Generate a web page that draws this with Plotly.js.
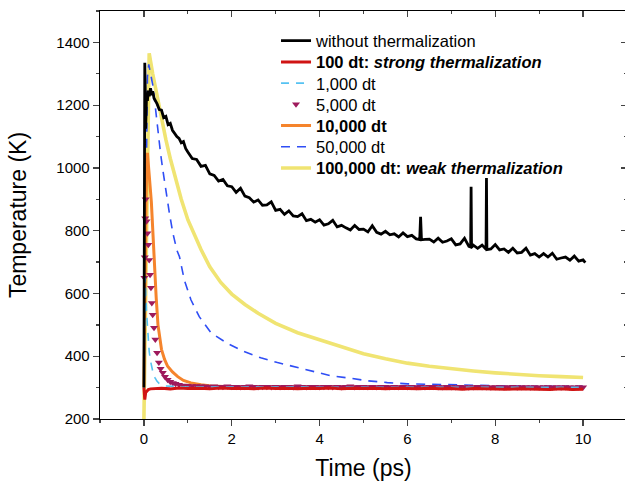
<!DOCTYPE html>
<html>
<head>
<meta charset="utf-8">
<script src="https://cdn.plot.ly/plotly-3.0.1.min.js"></script>
<style>
html,body{margin:0;padding:0;overflow:hidden;background:#fff;}
#chart{width:640px;height:482px;}
</style>
</head>
<body>
<div id="chart"></div>
<script>
// ---- Data ----
const seriesNames = [
  "without thermalization",
  "<b>100 dt: <i>strong thermalization</i></b>",
  "1,000 dt",
  "5,000 dt",
  "<b>10,000 dt</b>",
  "50,000 dt",
  "<b>100,000 dt: <i>weak thermalization</i></b>"
];

const blackT = [0,0.01,0.02,0.03,0.04,0.06,0.08,0.1,0.12,0.15,0.18,0.2,0.23,0.26,0.3,0.35,0.4,0.45,0.5,0.55,0.6,0.65,0.7,0.75,0.8,0.85,0.9,0.95,
  1.0,1.1,1.2,1.3,1.4,1.5,1.6,1.7,1.8,1.9,2.0,2.1,2.2,2.3,2.4,2.5,2.6,2.7,2.8,2.9,3.0,3.1,3.2,3.3,3.4,3.5,3.6,3.7,3.8,3.9,
  4.0,4.1,4.2,4.3,4.4,4.5,4.6,4.7,4.8,4.9,5.0,5.1,5.2,5.3,5.4,5.5,5.6,5.7,5.8,5.9,6.0,6.1,6.2,6.28,6.3,6.32,6.4,6.5,6.6,6.7,6.8,6.9,
  7.0,7.1,7.2,7.3,7.4,7.44,7.45,7.46,7.5,7.6,7.7,7.79,7.8,7.81,7.9,8.0,8.1,8.2,8.3,8.4,8.5,8.6,8.7,8.8,8.9,9.0,9.1,9.2,9.3,9.4,9.5,9.6,9.7,9.8,9.9,10.0,10.05];
const blackV = [300,640,1335,1262,1125,1232,1214,1246,1228,1254,1232,1244,1222,1216,1204,1186,1184,1160,1164,1138,1142,1120,1108,1100,1094,1080,1084,1062,
  1051,1030,1027,1005,1008,981,976,958,963,943,940,922,935,910,905,891,898,881,882,892,865,868,852,863,847,845,854,832,836,827,
  835,818,822,833,812,817,809,802,817,804,805,796,816,795,789,798,787,790,780,793,781,785,774,772,844,771,772,773,764,776,763,767,
  774,755,758,776,750,748,940,747,754,744,754,741,968,740,742,756,739,742,731,744,729,731,744,722,727,716,727,716,728,709,713,716,706,719,703,707,698];

const redT = [0,0.02,0.04,0.07,0.1,0.15,0.25,0.4,0.6,0.8,1.0,1.25,1.5,1.75,2.0,2.25,2.5,2.75,3.0,3.25,3.5,3.75,4.0,4.25,4.5,4.75,5.0,5.25,5.5,5.75,6.0,6.25,6.5,6.75,7.0,7.25,7.5,7.75,8.0,8.25,8.5,8.75,9.0,9.25,9.5,9.75,10.0];
const redV = [300,262,284,291,294,296,297,298,296,299,297,298,296,299,297,298,296,299,297,298,296,298,297,299,296,298,297,298,296,298,297,296,298,296,297,295,297,296,297,295,296,295,296,294,296,294,295];

const lightBlueT = [0,0.03,0.06,0.09,0.12,0.15,0.18,0.21,0.25,0.3,0.35,0.4,0.5,0.7,1.0,2,3,4,5,6,7,8,9,10];
const lightBlueV = [300,650,540,465,415,385,362,346,332,320,313,309,305,303,302,302,301,302,301,301,302,301,301,301];

const markerT = [0.01,0.02,0.03,0.04,0.06,0.08,0.1,0.12,0.14,0.16,0.18,0.2,0.23,0.26,0.3,0.34,0.38,0.43,0.48,0.54,0.6,0.66,0.72,0.8,0.9,
  1.0,1.1,1.2,1.3,1.4,1.5,1.6,1.7,1.8,1.9,2.0,2.1,2.2,2.3,2.4,2.5,2.6,2.7,2.8,2.9,3.0,3.1,3.2,3.3,3.4,3.5,3.6,3.7,3.8,3.9,
  4.0,4.1,4.2,4.3,4.4,4.5,4.6,4.7,4.8,4.9,5.0,5.1,5.2,5.3,5.4,5.5,5.6,5.7,5.8,5.9,6.0,6.1,6.2,6.3,6.4,6.5,6.6,6.7,6.8,6.9,
  7.0,7.1,7.2,7.3,7.4,7.5,7.6,7.7,7.8,7.9,8.0,8.1,8.2,8.3,8.4,8.5,8.6,8.7,8.8,8.9,9.0,9.1,9.2,9.3,9.4,9.5,9.6,9.7,9.8,9.9,10.0];
const markerV = [650,715,840,900,830,792,755,707,660,618,570,532,491,453,411,380,360,347,335,325,319,315,312,309,307,
  306,305,305,304,304,303,304,303,303,304,303,303,302,303,304,303,302,303,303,302,303,302,303,303,302,304,303,302,303,303,
  302,303,303,302,303,302,303,304,302,303,303,302,303,302,303,303,302,303,302,303,302,303,302,303,302,303,303,302,302,303,
  302,302,303,302,301,302,303,302,302,301,302,302,301,302,303,301,302,302,301,302,301,302,302,301,302,301,302,301,301,302,301];

const orangeT = [0,0.03,0.06,0.08,0.1,0.13,0.17,0.2,0.24,0.28,0.32,0.36,0.4,0.47,0.54,0.65,0.77,0.9,1.07,1.3,1.53,2,2.5,3,4,5,6,7,8,9,10];
const orangeV = [300,700,1000,1048,1020,960,890,800,690,585,500,455,422,390,368,350,335,323,315,309,305,303,303,302,302,302,301,301,301,300,300];

const blueT = [0,0.05,0.08,0.11,0.15,0.21,0.26,0.32,0.38,0.43,0.5,0.58,0.66,0.75,0.81,0.92,1.07,1.26,1.53,1.91,2.28,2.66,3.04,3.5,3.87,4.25,4.7,5.08,5.54,6.0,6.75,7.5,8.4,9.2,10];
const blueV = [300,900,1290,1330,1305,1258,1194,1111,1045,994,925,856,792,738,717,643,580,526,474,440,415,395,380,364,350,338,330,322,316,312,310,307,305,304,304];

const yellowT = [0,0.12,0.2,0.3,0.4,0.5,0.6,0.7,0.85,1.0,1.15,1.3,1.5,1.75,2.0,2.3,2.6,3.0,3.5,4.0,4.5,5.0,5.5,6.0,6.5,7.0,7.5,8.0,8.5,9.0,9.5,10.0];
const yellowV = [200,1365,1300,1225,1150,1090,1030,975,900,835,785,740,685,635,598,565,537,505,475,452,428,408,392,378,368,360,353,347,342,338,335,332];

const xTickVals = [0,2,4,6,8,10];
const yTickVals = [200,400,600,800,1000,1200,1400];
// legend row positions (paper y, one small legend per series)
const legendRowY = [0.9265,0.8745,0.8225,0.7706,0.7186,0.6667,0.6147];

// ---- Traces (drawing order: yellow bottom ... black top) ----
const traces = [
  {x: yellowT, y: yellowV, name: seriesNames[6], mode: 'lines', line: {color: '#f0e472', width: 3.6}, legend: 'legend7'},
  {x: blueT, y: blueV, name: seriesNames[5], mode: 'lines', line: {color: '#2f4ef5', width: 1.6, dash: '9px,7px'}, legend: 'legend6'},
  {x: orangeT, y: orangeV, name: seriesNames[4], mode: 'lines', line: {color: '#f5842c', width: 3}, legend: 'legend5'},
  {x: markerT, y: markerV, name: seriesNames[3], mode: 'markers', marker: {symbol: 'triangle-down', color: '#9e1a5c', size: 7}, legend: 'legend4'},
  {x: lightBlueT, y: lightBlueV, name: seriesNames[2], mode: 'lines', line: {color: '#55c2f2', width: 1.6, dash: '8px,7px'}, legend: 'legend3'},
  {x: redT, y: redV, name: seriesNames[1], mode: 'lines', line: {color: '#d01414', width: 3}, legend: 'legend2'},
  {x: blackT, y: blackV, name: seriesNames[0], mode: 'lines', line: {color: '#000000', width: 2.8}, legend: 'legend'},
  {x: [null], y: [null], xaxis: 'x2', yaxis: 'y2', showlegend: false, hoverinfo: 'skip', mode: 'lines'}
];

const fontFam = '"Liberation Sans", Arial, sans-serif';

function legendAt(i) {
  return {
    x: 0.334, y: legendRowY[i], xanchor: 'left', yanchor: 'middle',
    bgcolor: 'rgba(0,0,0,0)', borderwidth: 0,
    font: {size: 16.5, family: fontFam, color: '#000'}
  };
}

const layout = {
  width: 640, height: 482,
  margin: {l: 100, r: 13, t: 11, b: 63},
  paper_bgcolor: '#fff', plot_bgcolor: '#fff',
  font: {family: fontFam, color: '#000'},
  showlegend: true,
  legend: legendAt(0),
  legend2: legendAt(1),
  legend3: legendAt(2),
  legend4: legendAt(3),
  legend5: legendAt(4),
  legend6: legendAt(5),
  legend7: legendAt(6),
  xaxis: {
    range: [-1, 11], tickvals: xTickVals, ticks: 'outside', ticklen: 6, tickwidth: 1.3,
    minor: {dtick: 1, tick0: 0, ticks: 'outside', ticklen: 3, tickwidth: 1.3, showgrid: false},
    showline: true, linecolor: '#000', linewidth: 1.3, showgrid: false, zeroline: false,
    tickfont: {size: 15, family: fontFam},
    title: {text: 'Time (ps)', font: {size: 23, family: fontFam}, standoff: 13}
  },
  yaxis: {
    range: [200, 1500], tickvals: yTickVals, ticks: 'outside', ticklen: 6, tickwidth: 1.3,
    minor: {dtick: 100, tick0: 0, ticks: 'outside', ticklen: 3, tickwidth: 1.3, showgrid: false},
    showline: true, linecolor: '#000', linewidth: 1.3, showgrid: false, zeroline: false,
    tickfont: {size: 15, family: fontFam},
    title: {text: 'Temperature (K)', font: {size: 23, family: fontFam}, standoff: 23}
  },
  xaxis2: {
    overlaying: 'x', side: 'top', anchor: 'y2', range: [-1, 11], tickvals: xTickVals,
    ticks: 'inside', ticklen: 6, tickwidth: 1.3,
    minor: {dtick: 1, tick0: 0, ticks: 'inside', ticklen: 3, tickwidth: 1.3, showgrid: false},
    showline: true, linecolor: '#000', linewidth: 1.3, showgrid: false, zeroline: false, showticklabels: false
  },
  yaxis2: {
    overlaying: 'y', side: 'right', anchor: 'x2', range: [200, 1500], tickvals: yTickVals,
    ticks: 'inside', ticklen: 6, tickwidth: 1.3,
    minor: {dtick: 100, tick0: 0, ticks: 'inside', ticklen: 3, tickwidth: 1.3, showgrid: false},
    showline: true, linecolor: '#000', linewidth: 1.3, showgrid: false, zeroline: false, showticklabels: false
  }
};

Plotly.newPlot('chart', traces, layout, {displayModeBar: false, staticPlot: true});
</script>
</body>
</html>
